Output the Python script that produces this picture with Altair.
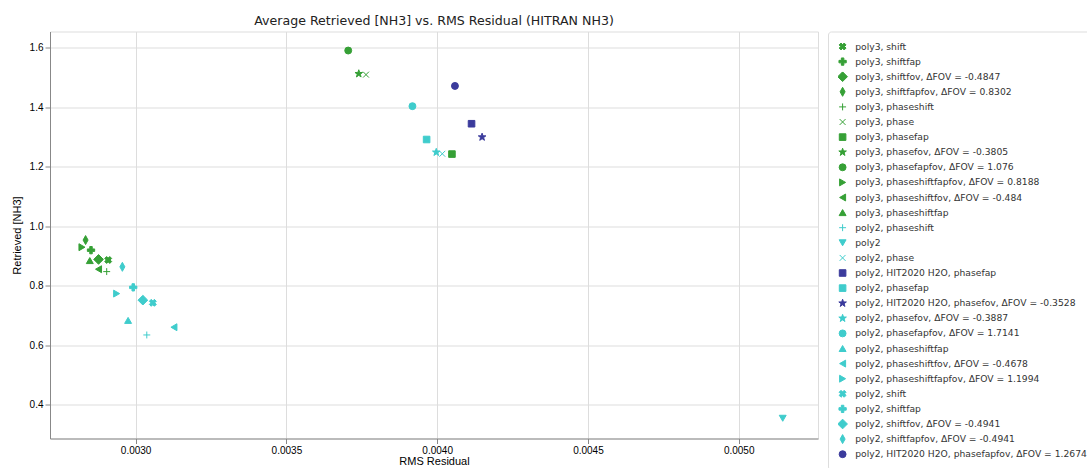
import altair as alt
import pandas as pd

# Retrieval runs, in legend order
labels = [
    "poly3, shift",
    "poly3, shiftfap",
    "poly3, shiftfov, ΔFOV = -0.4847",
    "poly3, shiftfapfov, ΔFOV = 0.8302",
    "poly3, phaseshift",
    "poly3, phase",
    "poly3, phasefap",
    "poly3, phasefov, ΔFOV = -0.3805",
    "poly3, phasefapfov, ΔFOV = 1.076",
    "poly3, phaseshiftfapfov, ΔFOV = 0.8188",
    "poly3, phaseshiftfov, ΔFOV = -0.484",
    "poly3, phaseshiftfap",
    "poly2, phaseshift",
    "poly2",
    "poly2, phase",
    "poly2, HIT2020 H2O, phasefap",
    "poly2, phasefap",
    "poly2, HIT2020 H2O, phasefov, ΔFOV = -0.3528",
    "poly2, phasefov, ΔFOV = -0.3887",
    "poly2, phasefapfov, ΔFOV = 1.7141",
    "poly2, phaseshiftfap",
    "poly2, phaseshiftfov, ΔFOV = -0.4678",
    "poly2, phaseshiftfapfov, ΔFOV = 1.1994",
    "poly2, shift",
    "poly2, shiftfap",
    "poly2, shiftfov, ΔFOV = -0.4941",
    "poly2, shiftfapfov, ΔFOV = -0.4941",
    "poly2, HIT2020 H2O, phasefapfov, ΔFOV = 1.2674",
]

# RMS residual of each run
rms = [
    0.002909, 0.002852, 0.002877, 0.002834, 0.002904, 0.003764, 0.004049,
    0.003740, 0.003705, 0.002822, 0.002877, 0.002848,
    0.003037, 0.005146, 0.004017, 0.004114, 0.003965, 0.004149, 0.003997,
    0.003918, 0.002975, 0.003127, 0.002937, 0.003057, 0.002992, 0.003024,
    0.002956, 0.004059,
]

# Average retrieved [NH3] of each run
nh3 = [
    0.887, 0.920, 0.889, 0.954, 0.848, 1.510, 1.243,
    1.513, 1.591, 0.930, 0.856, 0.885,
    0.635, 0.355, 1.244, 1.345, 1.292, 1.300, 1.249,
    1.404, 0.684, 0.661, 0.774, 0.743, 0.795, 0.752,
    0.864, 1.472,
]

x_ticks = [0.0030, 0.0035, 0.0040, 0.0045, 0.0050]
y_ticks = [0.4, 0.6, 0.8, 1.0, 1.2, 1.4, 1.6]

# Marker glyphs (SVG paths in symbol units) keyed by processing method
STAR = ("M0,-1.15L0.27,-0.37L1.09,-0.36L0.44,0.14L0.68,0.93L0,0.46"
        "L-0.68,0.93L-0.44,0.14L-1.09,-0.36L-0.27,-0.37Z")
GLYPHS = {
    "shift": "M-1,-0.45L-0.45,-1L0,-0.55L0.45,-1L1,-0.45L0.55,0L1,0.45L0.45,1L0,0.55L-0.45,1L-1,0.45L-0.55,0Z",
    "shiftfap": "M-0.36,-1.05H0.36V-0.36H1.05V0.36H0.36V1.05H-0.36V0.36H-1.05V-0.36H-0.36Z",
    "shiftfov": "M0,-1.4L1.4,0L0,1.4L-1.4,0Z",
    "shiftfapfov": "M0,-1.3L0.72,0L0,1.3L-0.72,0Z",
    "phaseshift": "M-1,0H1M0,-1V1",
    "phase": "M-0.85,-0.85L0.85,0.85M-0.85,0.85L0.85,-0.85",
    "phasefap": "M-0.95,-0.95H0.95V0.95H-0.95Z",
    "phasefov": STAR,
    "phasefapfov": "circle",
    "phaseshiftfapfov": "triangle-right",
    "phaseshiftfov": "triangle-left",
    "phaseshiftfap": "triangle-up",
    "": "triangle-down",
}

GREEN = "#36a036"
CYAN = "#3fcccc"
NAVY = "#3b3b9c"


def method_of(label):
    parts = label.split(", ")[1:]
    names = [p for p in parts if p in GLYPHS]
    return names[0] if names else ""


def colour_of(label):
    if label.startswith("poly3"):
        return GREEN
    if "HIT2020" in label:
        return NAVY
    return CYAN


shape_range = [GLYPHS[method_of(l)] for l in labels]
colour_range = [colour_of(l) for l in labels]

df = pd.DataFrame({"run": labels, "rms": rms, "nh3": nh3})

FONT = "DejaVu Sans"

legend = alt.Legend(
    title=None,
    orient="right",
    offset=10,
    padding=10,
    strokeColor="#dddddd",
    fillColor="white",
    cornerRadius=3,
    labelFont=FONT,
    labelFontSize=9.2,
    labelColor="#333333",
    labelLimit=400,
    labelOffset=8,
    clipHeight=10,
    rowPadding=4.1,
    symbolSize=48,
    symbolStrokeWidth=1,
    symbolLimit=40,
)

colour_scale = alt.Scale(domain=labels, range=colour_range)
shape_scale = alt.Scale(domain=labels, range=shape_range)

chart = (
    alt.Chart(df)
    .mark_point(filled=True, size=48, strokeWidth=1, opacity=1)
    .encode(
        x=alt.X(
            "rms:Q",
            scale=alt.Scale(domain=[0.002716, 0.005263], nice=False, zero=False),
            axis=alt.Axis(values=x_ticks, format=".4f", title="RMS Residual",
                          titleFontWeight="normal", titlePadding=0),
        ),
        y=alt.Y(
            "nh3:Q",
            scale=alt.Scale(domain=[0.287, 1.655], nice=False, zero=False),
            axis=alt.Axis(values=y_ticks, format=".1f", title="Retrieved [NH3]",
                          titleFontWeight="normal", titlePadding=7),
        ),
        fill=alt.Fill("run:N", scale=colour_scale, legend=legend),
        stroke=alt.Stroke("run:N", scale=colour_scale, legend=legend),
        shape=alt.Shape("run:N", scale=shape_scale, legend=legend),
        tooltip=["run:N", "rms:Q", "nh3:Q"],
    )
    .properties(
        width=768,
        height=407,
        autosize=alt.AutoSizeParams(type="none"),
        padding={"left": 50, "top": 31.5, "right": 269, "bottom": 29.5},
        title=alt.TitleParams(
            "Average Retrieved [NH3] vs. RMS Residual (HITRAN NH3)",
            font=FONT,
            fontSize=12.6,
            fontWeight="normal",
            color="#222222",
            anchor="middle",
            offset=3,
        ),
    )
    .configure_view(stroke="#333333", strokeWidth=1)
    .configure_axis(
        labelFont=FONT,
        labelFontSize=8.6,
        labelColor="#333333",
        titleFont=FONT,
        titleFontSize=11.5,
        titleColor="#222222",
        gridColor="#cccccc",
        gridWidth=1,
        domainColor="#333333",
        tickColor="#333333",
        tickSize=3.5,
        labelPadding=3,
    )
    .configure(background="white")
)

chart.save("out.html", embed_options={"renderer": "svg", "actions": False})
